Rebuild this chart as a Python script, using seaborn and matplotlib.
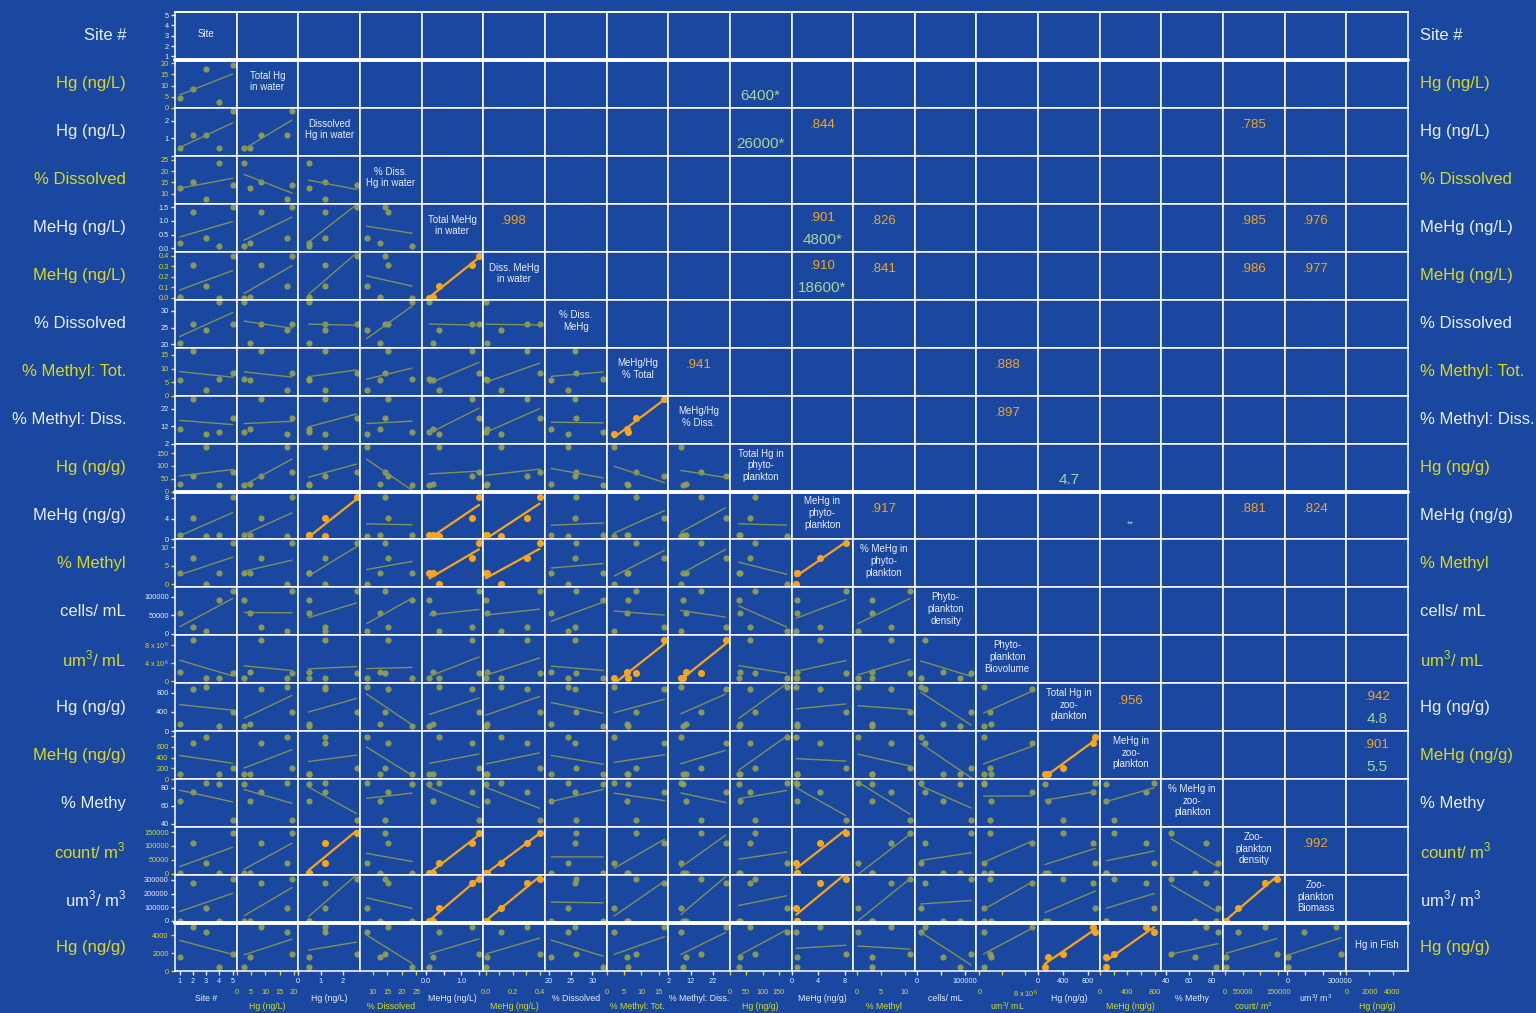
import numpy as np
import matplotlib
matplotlib.use("Agg")
import matplotlib.pyplot as plt
from matplotlib.lines import Line2D
import seaborn as sns

# ---------------- data (5 sampling sites) ----------------
row_labels = ["Site #", "Hg (ng/L)", "Hg (ng/L)", "% Dissolved", "MeHg (ng/L)",
              "MeHg (ng/L)", "% Dissolved", "% Methyl: Tot.", "% Methyl: Diss.",
              "Hg (ng/g)", "MeHg (ng/g)", "% Methyl", "cells/ mL", "um$^3$/ mL",
              "Hg (ng/g)", "MeHg (ng/g)", "% Methy", "count/ m$^3$", "um$^3$/ m$^3$",
              "Hg (ng/g)"]
diag_labels = ["Site", "Total Hg\nin water", "Dissolved\nHg in water", "% Diss.\nHg in water",
               "Total MeHg\nin water", "Diss. MeHg\nin water", "% Diss.\nMeHg",
               "MeHg/Hg\n% Total", "MeHg/Hg\n% Diss.", "Total Hg in\nphyto-\nplankton",
               "MeHg in\nphyto-\nplankton", "% MeHg in\nphyto-\nplankton",
               "Phyto-\nplankton\ndensity", "Phyto-\nplankton\nBiovolume",
               "Total Hg in\nzoo-\nplankton", "MeHg in\nzoo-\nplankton",
               "% MeHg in\nzoo-\nplankton", "Zoo-\nplankton\ndensity",
               "Zoo-\nplankton\nBiomass", "Hg in Fish"]

site = [1, 2, 3, 4, 5]
hg_water_total = [4.6, 8.6, 17.5, 2.6, 19.3]
hg_water_diss = [0.46, 1.2, 1.2, 0.46, 2.6]
pct_diss_hg = [12.5, 15.3, 7.8, 23.5, 14.0]
mehg_water_total = [0.19, 1.31, 0.38, 0.10, 1.50]
mehg_water_diss = [0.01, 0.31, 0.11, 0.00, 0.40]
pct_diss_mehg = [20.5, 26.0, 24.3, 32.5, 26.2]
pct_methyl_tot = [5.8, 16.6, 2.2, 6.2, 8.4]
pct_methyl_diss = [10.1, 27.7, 7.6, 8.6, 16.6]
hg_phyto = [30, 60, 173, 27, 78]
mehg_phyto = [0.8, 4.2, 0.7, 0.8, 8.1]
pct_methyl_phyto = [3.2, 7.1, 0.2, 3.2, 11.1]
phyto_density = [54500, 17000, 7600, 90000, 114000]
phyto_biovolume = [2.07e6, 9.1e6, 0.74e6, 0.74e6, 1.85e6]
hg_zoo = [159, 876, 918, 110, 400]
mehg_zoo = [97, 663, 785, 97, 200]
pct_methyl_zoo = [65.1, 75.1, 85.1, 83.7, 44.4]
zoo_density = [3800, 112500, 37500, 3800, 146000]
zoo_biomass = [2500, 275000, 95000, 1500, 305000]
hg_fish = [1585, 4910, 4300, 480, 1850]

variables = [site, hg_water_total, hg_water_diss, pct_diss_hg, mehg_water_total,
             mehg_water_diss, pct_diss_mehg, pct_methyl_tot, pct_methyl_diss,
             hg_phyto, mehg_phyto, pct_methyl_phyto, phyto_density, phyto_biovolume,
             hg_zoo, mehg_zoo, pct_methyl_zoo, zoo_density, zoo_biomass, hg_fish]

axis_ticks = [[1, 2, 3, 4, 5], [0, 5, 10, 15, 20], [0, 1, 2], [5, 10, 15, 20, 25],
              [0, 0.5, 1.0, 1.5], [0, 0.1, 0.2, 0.3, 0.4], [20, 25, 30], [0, 5, 10, 15],
              [2, 12, 22], [0, 50, 100, 150], [0, 4, 8], [0, 5, 10],
              [0, 50000, 100000], [0, 4e6, 8e6], [0, 400, 800], [0, 200, 400, 600, 800],
              [40, 60, 80], [0, 50000, 100000, 150000], [0, 100000, 200000, 300000],
              [0, 2000, 4000]]
ytick_labels = [["1", "2", "3", "4", "5"], ["0", "5", "10", "15", "20"], ["", "1", "2"],
                ["5", "10", "15", "20", "25"], ["0.0", "0.5", "1.0", "1.5"],
                ["0.0", "0.1", "0.2", "0.3", "0.4"], ["20", "25", "30"],
                ["0", "5", "10", "15"], ["2", "12", "22"], ["0", "50", "100", "150"],
                ["0", "4", "8"], ["0", "5", "10"], ["0", "50000", "100000"],
                ["0", r"4 x 10$^6$", r"8 x 10$^6$"], ["0", "400", "800"],
                ["0", "200", "400", "600", ""], ["40", "60", "80"],
                ["0", "50000", "100000", "150000"], ["0", "100000", "200000", "300000"],
                ["0", "2000", "4000"]]
xtick_labels = [["1", "2", "3", "4", "5"], ["0", "5", "10", "15", "20"], ["0", "1", "2"],
                ["5", "10", "15", "20", "25"], ["0.0", "", "1.0", ""],
                ["0.0", "", "0.2", "", "0.4"], ["20", "25", "30"],
                ["0", "5", "10", "15"], ["2", "12", "22"], ["0", "50", "100", "150"],
                ["0", "4", "8"], ["0", "5", "10"], ["0", "", "100000"],
                ["0", "", r"8 x 10$^6$"], ["0", "400", "800"],
                ["0", "", "400", "", "800"], ["40", "60", "80"],
                ["0", "50000", "", "150000"], ["0", "", "", "300000"],
                ["0", "2000", "4000"]]
axis_limits = [[0.65, 5.3], [0, 21.5], [0, 2.75], [5.5, 26.8], [-0.12, 1.62],
               [-0.02, 0.44], [19, 33.3], [0, 17.7], [2, 29.6], [0, 188], [0, 9.2],
               [-0.8, 12.1], [-5000, 125000], [-0.5e6, 10.2e6], [0, 990], [0, 890],
               [36, 89.5], [-5000, 168000], [-15000, 335000], [0, 5330]]

# significant correlations (upper-triangle row, column, r)
corr_labels = [(2, 10, ".844"), (2, 17, ".785"), (4, 5, ".998"), (4, 10, ".901"),
               (4, 11, ".826"), (4, 17, ".985"), (4, 18, ".976"), (5, 10, ".910"),
               (5, 11, ".841"), (5, 17, ".986"), (5, 18, ".977"), (7, 8, ".941"),
               (7, 13, ".888"), (8, 13, ".897"), (10, 11, ".917"), (10, 17, ".881"),
               (10, 18, ".824"), (14, 15, ".956"), (14, 19, ".942"), (15, 19, ".901"),
               (17, 18, ".992")]
factor_labels = [(1, 9, "6400*"), (2, 9, "26000*"), (4, 10, "4800*"), (5, 10, "18600*"),
                 (9, 14, "4.7"), (10, 15, "**"), (14, 19, "4.8"), (15, 19, "5.5")]

# ---------------- style ----------------
BG = "#1a47a0"
WHITE = "#e9edf6"
YELLOW = "#d9d91e"
POINT = "#95a24e"
LINE = "#7f915a"
ORANGE = "#f6a51d"
GREEN = "#a6d49a"

sns.set_theme(style="dark")
plt.rcParams["font.family"] = ["Liberation Sans", "DejaVu Sans"]
plt.rcParams["mathtext.fontset"] = "custom"
plt.rcParams["mathtext.rm"] = "Liberation Sans"

W, H = 1536, 1013
fig = plt.figure(figsize=(W / 100, H / 100), dpi=100, facecolor=BG)

n = len(variables)
X0, X1 = 175.0, 1408.0
Y0, Y1 = 12.0, 971.0
cw = (X1 - X0) / n
ch = (Y1 - Y0) / n

sig = {(j, i) for (i, j, _) in corr_labels}
has_factor = {(i, j) for (i, j, _) in factor_labels}


def fx(px):
    return px / W


def fy(py):
    return 1 - py / H


for i in range(n):
    for j in range(n):
        ax = fig.add_axes([fx(X0 + cw * j), fy(Y0 + ch * (i + 1)), cw / W, ch / H])
        ax.set_facecolor(BG)
        for s in ax.spines.values():
            s.set_color("white")
            s.set_linewidth(1.1)
        ax.grid(False)
        if i > j:
            xs = np.array(variables[j], dtype=float)
            ys = np.array(variables[i], dtype=float)
            if (i, j) in sig:
                sns.regplot(x=xs, y=ys, ax=ax, ci=None, truncate=True,
                            scatter_kws=dict(s=26, color=ORANGE, linewidths=0, alpha=1),
                            line_kws=dict(color=ORANGE, lw=1.6))
            else:
                sns.regplot(x=xs, y=ys, ax=ax, ci=None, truncate=True,
                            scatter_kws=dict(s=20, color=POINT, linewidths=0, alpha=0.9),
                            line_kws=dict(color=LINE, lw=1.0))
        elif i == j:
            ax.text(0.5, 0.55, diag_labels[i], transform=ax.transAxes, ha="center",
                    va="center", color=WHITE, fontsize=7, linespacing=1.2)
        ax.set_xlabel("")
        ax.set_ylabel("")
        # y ticks on the first column
        if j == 0:
            c = WHITE if i % 2 == 0 else YELLOW
            ax.set_yticks(axis_ticks[i])
            ax.set_yticklabels(ytick_labels[i])
            ax.tick_params(axis="y", left=True, length=3, width=1, color=c,
                           labelcolor=c, labelsize=5.3, pad=1.5)
        else:
            ax.set_yticks([])
        # x ticks on the last row
        if i == n - 1:
            c = WHITE if j % 2 == 0 else YELLOW
            ax.set_xticks(axis_ticks[j])
            ax.set_xticklabels(xtick_labels[j])
            ax.tick_params(axis="x", bottom=True, length=3, width=1, color=c,
                           labelcolor=c, labelsize=5.3,
                           pad=2 if j % 2 == 0 else 10)
        else:
            ax.set_xticks([])
        ax.set_xlim(axis_limits[j])
        ax.set_ylim(axis_limits[i])

# upper-triangle annotations
for (i, j, t) in corr_labels:
    cx = X0 + cw * (j + 0.5)
    yy = 0.71 if (i, j) in has_factor else 0.64
    cy = Y0 + ch * (i + 1 - yy)
    fig.text(fx(cx), fy(cy), t, ha="center", va="center", color=ORANGE, fontsize=9.5)
for (i, j, t) in factor_labels:
    cx = X0 + cw * (j + 0.5)
    yy = 0.25 if t != "**" else 0.32
    cy = Y0 + ch * (i + 1 - yy)
    fs = 11 if t != "**" else 6.5
    fig.text(fx(cx), fy(cy), t, ha="center", va="center", color=GREEN, fontsize=fs)

# row labels (left and right)
for i in range(n):
    c = WHITE if i % 2 == 0 else YELLOW
    cy = Y0 + ch * (i + 0.5)
    fig.text(fx(126), fy(cy), row_labels[i], ha="right", va="center", color=c, fontsize=12)
    fig.text(fx(1420), fy(cy), row_labels[i], ha="left", va="center", color=c, fontsize=12)

# column labels (bottom, staggered)
for j in range(n):
    c = WHITE if j % 2 == 0 else YELLOW
    cx = X0 + cw * (j + 0.5)
    cy = 998 if j % 2 == 0 else 1006
    fig.text(fx(cx), fy(cy), row_labels[j], ha="center", va="center", color=c, fontsize=6.3)

# heavier separators
for yb in [Y0 + ch, Y0 + ch * 10, Y0 + ch * 19]:
    fig.add_artist(Line2D([fx(X0), fx(X1)], [fy(yb), fy(yb)], color="white", lw=2.8,
                          transform=fig.transFigure, zorder=10))
fig.add_artist(Line2D([fx(X0), fx(X1)], [fy(Y0), fy(Y0)], color="white", lw=1.4,
                      transform=fig.transFigure, zorder=10))

fig.savefig("out.png", dpi=100, facecolor=BG)
